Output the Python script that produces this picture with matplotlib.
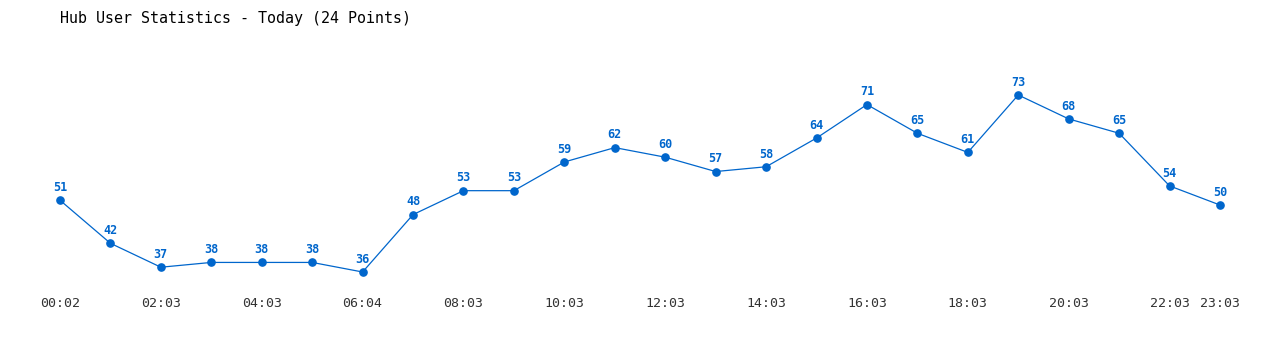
import matplotlib
matplotlib.use("Agg")
import matplotlib.pyplot as plt

title = "Hub User Statistics - Today (24 Points)"
values = [51, 42, 37, 38, 38, 38, 36, 48, 53, 53, 59, 62, 60, 57, 58, 64, 71, 65, 61, 73, 68, 65, 54, 50]
tick_positions = [0, 2, 4, 6, 8, 10, 12, 14, 16, 18, 20, 22, 23]
tick_labels = ["00:02", "02:03", "04:03", "06:04", "08:03", "10:03", "12:03", "14:03",
               "16:03", "18:03", "20:03", "22:03", "23:03"]

W, H = 1280, 350
fig = plt.figure(figsize=(W / 100, H / 100), dpi=100)
fig.patch.set_facecolor("white")
x0, x1 = 60, 1220
y_top, y_bot = 95, 272
ax = fig.add_axes([x0 / W, 1 - y_bot / H, (x1 - x0) / W, (y_bot - y_top) / H])
ax.set_xlim(0, len(values) - 1)
ax.set_ylim(min(values), max(values))
for s in ax.spines.values():
    s.set_visible(False)
ax.set_yticks([])

color = "#0066cc"
xs = list(range(len(values)))
ax.plot(xs, values, color=color, linewidth=0.9, marker="o", markersize=5.2, clip_on=False)
for x, v in zip(xs, values):
    ax.annotate(str(v), (x, v), xytext=(0, 4.5), textcoords="offset points", ha="center",
                va="bottom", fontsize=8.5, fontweight="bold", color=color,
                family="DejaVu Sans Mono")

ax.set_xticks(tick_positions)
ax.set_xticklabels(tick_labels, family="DejaVu Sans Mono", fontsize=9.5, color="#333333")
ax.tick_params(axis="x", length=0, pad=18)

fig.text(60 / W, 1 - 18 / H, title, family="DejaVu Sans Mono", fontsize=10.8,
         color="#000000", ha="left", va="center", fontweight="medium")

fig.savefig("out.png", dpi=100, facecolor="white")
